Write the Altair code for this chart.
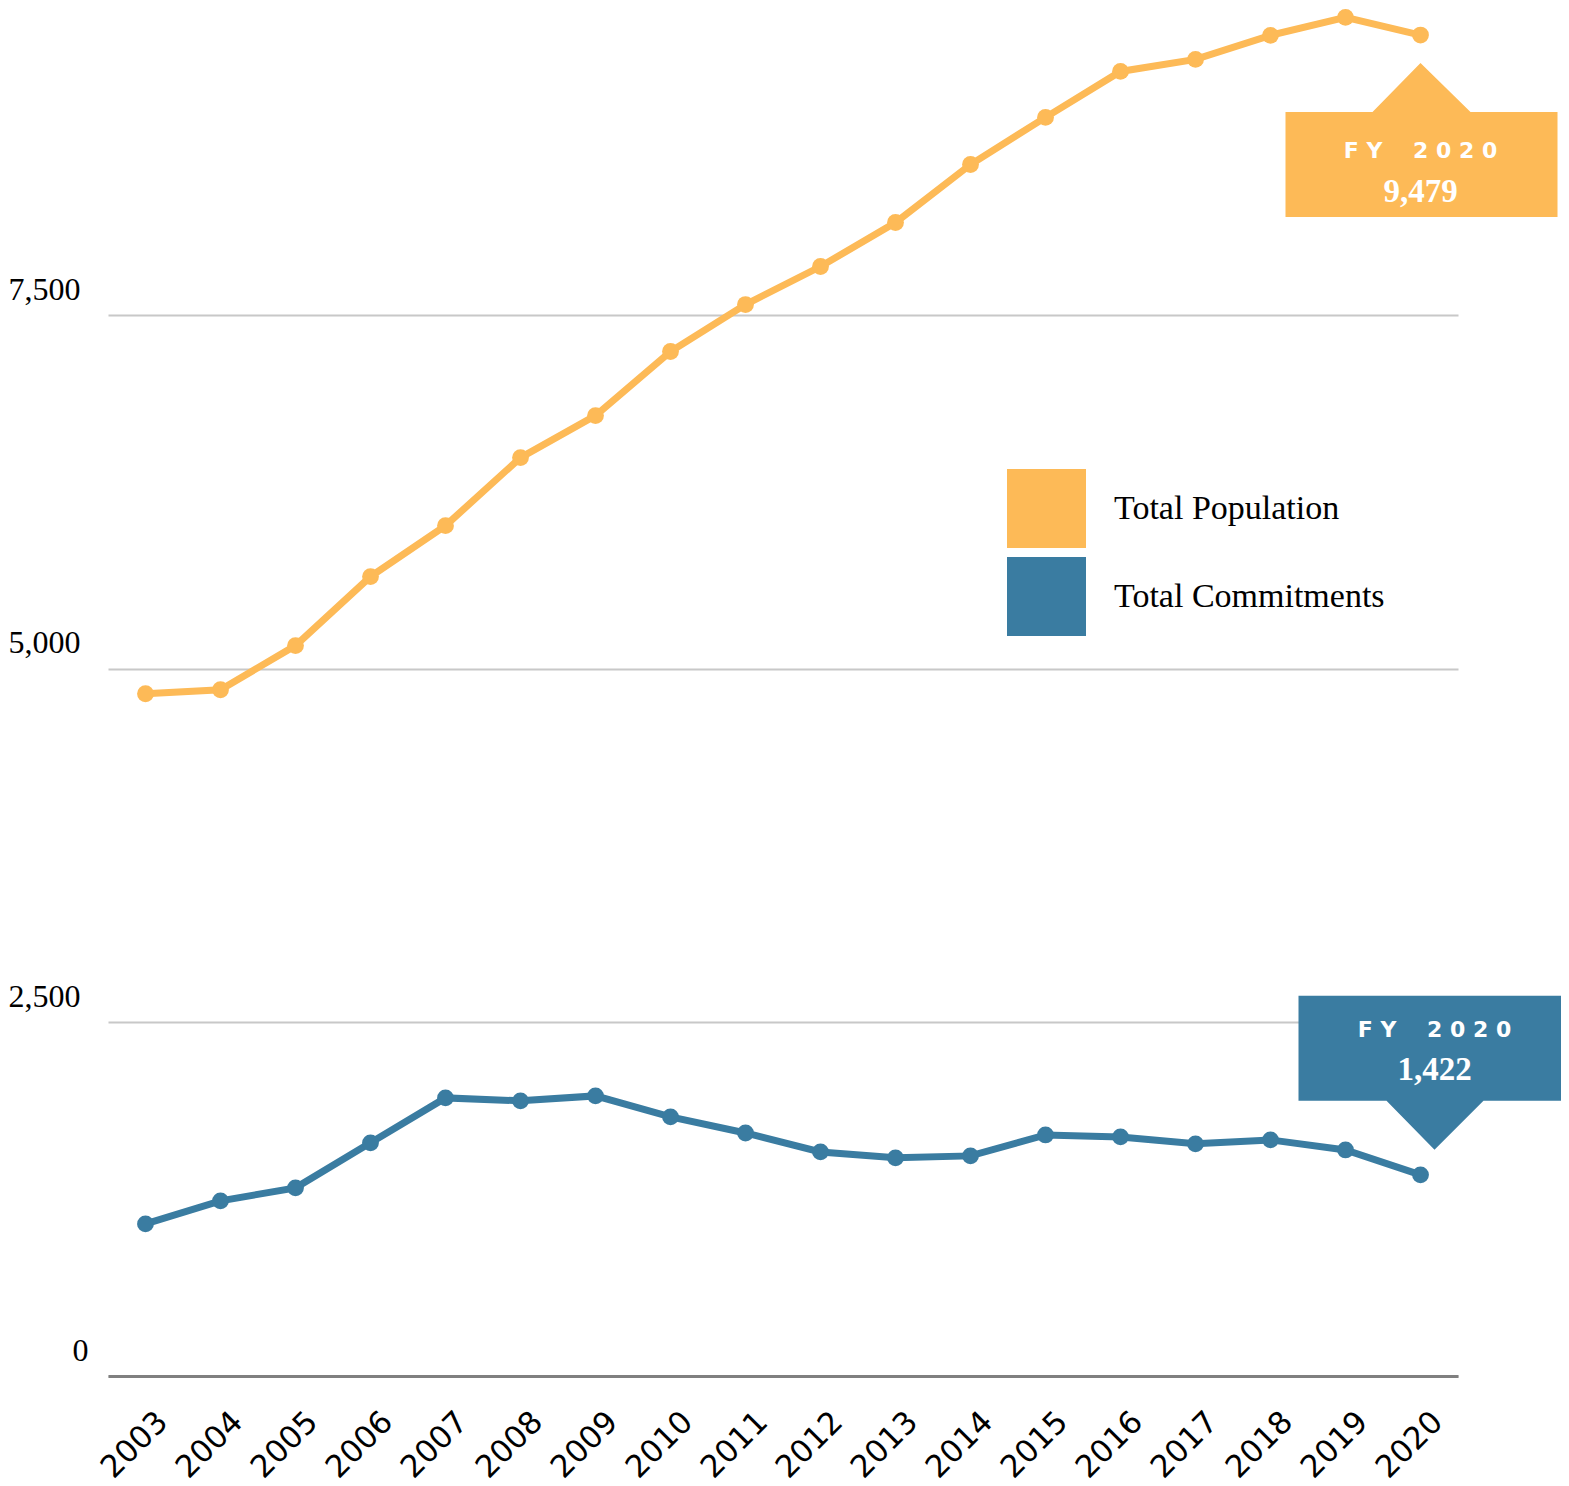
import altair as alt
import pandas as pd

years = [str(y) for y in range(2003, 2021)]
population = [4823, 4851, 5163, 5651, 6011, 6492, 6789, 7242, 7574, 7843,
              8154, 8564, 8897, 9222, 9307, 9477, 9604, 9479]
commitments = [1075, 1238, 1330, 1648, 1966, 1945, 1980, 1832, 1718, 1584,
               1542, 1556, 1704, 1690, 1641, 1669, 1598, 1422]
series_names = ["Total Population", "Total Commitments"]
series_colors = ["#FDBA57", "#3A7CA1"]
y_ticks = [0, 2500, 5000, 7500]

rows = []
for i, yr in enumerate(years):
    rows.append({"year": yr, "series": series_names[0], "value": population[i]})
    rows.append({"year": yr, "series": series_names[1], "value": commitments[i]})
df = pd.DataFrame(rows)

W, H = 1350, 1363
x_enc = alt.X("year:O", title=None,
              scale=alt.Scale(type="point", padding=0.5),
              axis=alt.Axis(labelAngle=-45, labelAlign="right", labelBaseline="middle",
                            labelFont="DejaVu Sans", labelFontSize=31, labelColor="#000000",
                            labelPadding=41, labelOffset=17, ticks=False, tickSize=0,
                            domain=True, domainColor="#808080", domainWidth=3,
                            grid=False))
y_enc = alt.Y("value:Q", title=None,
              scale=alt.Scale(domain=[0, 9635], nice=False, zero=True),
              axis=alt.Axis(values=y_ticks, format=",.0f", labelAlign="left",
                            labelBaseline="alphabetic", labelOffset=-16,
                            labelPadding={"condition": {"test": "datum.value == 0", "value": 36},
                                          "value": 100},
                            labelFont="Liberation Serif", labelFontSize=32,
                            labelColor="#000000", ticks=False, tickSize=0, domain=False,
                            grid=True, gridColor="#c8c8c8", gridWidth=2,
                            minExtent=100, maxExtent=100))
color_scale = alt.Scale(domain=series_names, range=series_colors)
legend = alt.Legend(title=None, orient="none", legendX=899, legendY=456)

base = alt.Chart(df)

lines = base.mark_line(strokeWidth=7).encode(
    x=x_enc, y=y_enc,
    stroke=alt.Stroke("series:N", scale=color_scale, legend=legend),
)
points = base.mark_circle(size=283, opacity=1).encode(
    x=x_enc, y=y_enc,
    fill=alt.Fill("series:N", scale=color_scale, legend=legend),
)

last = base.transform_filter(f"datum.year == '{years[-1]}'").transform_calculate(
    label="format(datum.value, ',')")

pop_path = "M0,28L50,77L137,77L137,182L-135,182L-135,77L-48,77Z"
com_path = "M14,-25L63,-74L151,-74L151,-179L-122,-179L-122,-74L-34,-74Z"

pop_last = last.transform_filter(f"datum.series == '{series_names[0]}'")
com_last = last.transform_filter(f"datum.series == '{series_names[1]}'")

pop_box = pop_last.mark_point(shape=pop_path, size=4, filled=True, opacity=1,
                              fill=series_colors[0], strokeWidth=0).encode(x="year:O", y="value:Q")
com_box = com_last.mark_point(shape=com_path, size=4, filled=True, opacity=1,
                              fill=series_colors[1], strokeWidth=0).encode(x="year:O", y="value:Q")

nb = "\u00a0"
fy = "F" + nb + "Y" + nb * 4 + "2" + nb + "0" + nb + "2" + nb + "0"
pop_fy = pop_last.mark_text(text=fy, font="DejaVu Sans", fontWeight="bold", fontSize=22,
                            color="white", align="center", baseline="alphabetic",
                            dx=0, dy=123).encode(x="year:O", y="value:Q")
pop_val = pop_last.mark_text(font="Liberation Serif", fontWeight="bold", fontSize=33,
                             color="white", align="center", baseline="alphabetic",
                             dx=0, dy=167).encode(x="year:O", y="value:Q", text="label:N")
com_fy = com_last.mark_text(text=fy, font="DejaVu Sans", fontWeight="bold", fontSize=22,
                            color="white", align="center", baseline="alphabetic",
                            dx=14, dy=-138).encode(x="year:O", y="value:Q")
com_val = com_last.mark_text(font="Liberation Serif", fontWeight="bold", fontSize=33,
                             color="white", align="center", baseline="alphabetic",
                             dx=14, dy=-95).encode(x="year:O", y="value:Q", text="label:N")

chart = alt.layer(lines, points, pop_box, com_box, pop_fy, pop_val, com_fy, com_val).properties(
    width=W, height=H,
    autosize=alt.AutoSizeParams(type="none"),
    padding={"left": 100, "top": 5, "right": 103, "bottom": 110},
).configure_view(stroke=None).configure_legend(
    symbolType="square", symbolSize=6241, symbolStrokeWidth=0, symbolOpacity=1,
    labelFont="Liberation Serif", labelFontSize=34, labelColor="#000000",
    labelOffset=28, rowPadding=9, padding=0, labelLimit=500,
)

chart.save("out.html", embed_options={"renderer": "svg", "actions": False})
